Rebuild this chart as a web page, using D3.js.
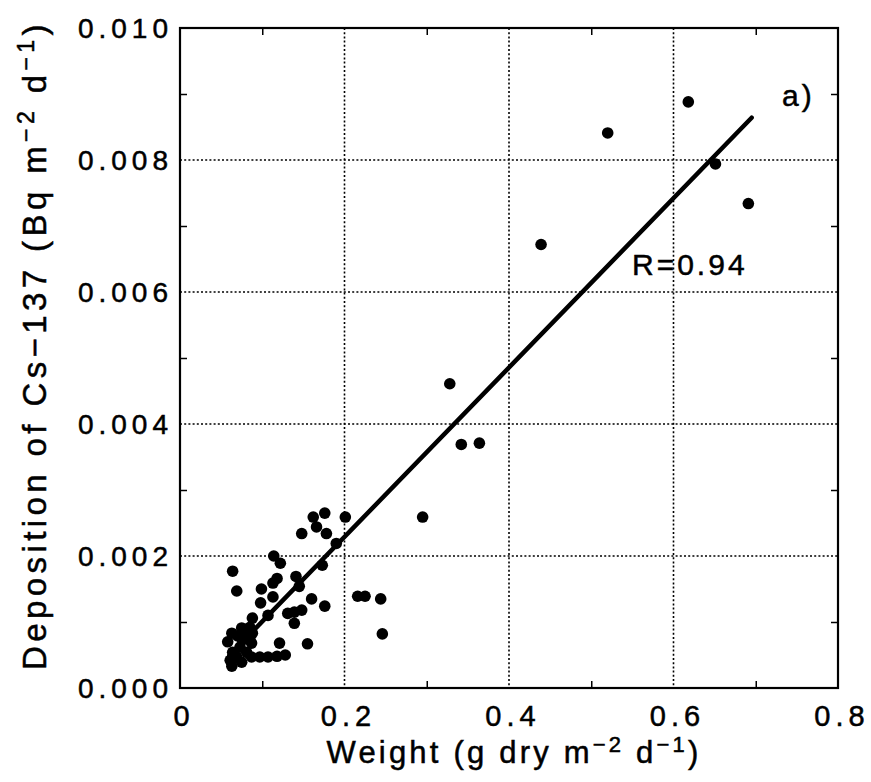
<!DOCTYPE html>
<html lang="en">
<head>
  <meta charset="UTF-8" />
  <title>Cs-137 deposition vs weight</title>
  <style>
    body { margin: 0; background: #fff; }
    svg { display: block; background: #fff; }
    text { font-family: "Liberation Sans", Arial, sans-serif; fill: #000; stroke: #000; stroke-width: 0.5px; }
    .ytick { font-size: 28px; letter-spacing: 5px; }
    .xtick { font-size: 29px; letter-spacing: 5px; }
    .xtitle { font-size: 31px; letter-spacing: 3.2px; }
    .ytitle { font-size: 33px; letter-spacing: 4.4px; }
    .note { font-size: 30px; letter-spacing: 3px; }
    .grid line { stroke: #000; stroke-width: 1.6; stroke-dasharray: 2,2.2; }
  </style>
</head>
<body>
  <svg width="871" height="782"></svg>
  <script src="https://d3js.org/d3.v7.min.js"></script>
  <script>
    // weight (g dry m-2 d-1)
    const weight = [
      0.618, 0.520, 0.651, 0.691, 0.439, 0.328, 0.342, 0.364, 0.295,
      0.216, 0.225, 0.244, 0.246, 0.160, 0.176, 0.148, 0.173,
      0.176, 0.162, 0.166, 0.178, 0.201, 0.148, 0.190,
      0.114, 0.122, 0.064, 0.141, 0.118, 0.113, 0.145, 0.069, 0.099, 0.113, 0.098,
      0.139, 0.131, 0.139, 0.088, 0.107, 0.063, 0.079, 0.058, 0.085, 0.073, 0.064,
      0.121, 0.155, 0.087, 0.097, 0.107, 0.118, 0.128, 0.061, 0.063, 0.075,
      0.081, 0.069, 0.076, 0.087, 0.088, 0.075, 0.085, 0.070
    ];
    // deposition of Cs-137 (Bq m-2 d-1)
    const deposition = [
      0.00888, 0.00841, 0.00794, 0.00734, 0.00672, 0.00461, 0.00369, 0.00371, 0.00259,
      0.00139, 0.00139, 0.00135, 0.00082, 0.00135, 0.00124, 0.00118, 0.00186,
      0.00265, 0.00259, 0.00244, 0.00234, 0.00259, 0.00234, 0.00219,
      0.00200, 0.00189, 0.00177, 0.00169, 0.00166, 0.00159, 0.00154, 0.00147, 0.00150, 0.00138, 0.00129,
      0.00115, 0.00113, 0.00098, 0.00106, 0.00110, 0.00083, 0.00088, 0.00070, 0.00077, 0.00062, 0.00054,
      0.00068, 0.00067, 0.00047, 0.00047, 0.00047, 0.00048, 0.00050, 0.00042, 0.00033, 0.00039,
      0.00054, 0.00047, 0.00073, 0.00068, 0.00083, 0.00091, 0.00092, 0.00079
    ];

    const xTicks = [0, 0.2, 0.4, 0.6, 0.8];
    const xTickLabels = ["0", "0.2", "0.4", "0.6", "0.8"];
    const yTicks = [0, 0.002, 0.004, 0.006, 0.008, 0.010];
    const yTickLabels = ["0.000", "0.002", "0.004", "0.006", "0.008", "0.010"];

    // fitted line
    const fitSlope = 0.01283;
    const fitIntercept = -0.000276;
    const fitRange = [0.06, 0.695];

    const svg = d3.select("svg");
    const pLeft = 180, pRight = 838, pTop = 28, pBottom = 688;

    const x = d3.scaleLinear().domain([0, 0.8]).range([pLeft, pRight]);
    const y = d3.scaleLinear().domain([0, 0.010]).range([pBottom, pTop]);

    // dotted grid
    const grid = svg.append("g").attr("class", "grid");
    grid.selectAll(".gx").data(xTicks.slice(1, -1)).enter().append("line")
      .attr("x1", d => x(d)).attr("x2", d => x(d))
      .attr("y1", pTop).attr("y2", pBottom);
    grid.selectAll(".gy").data(yTicks.slice(1, -1)).enter().append("line")
      .attr("y1", d => y(d)).attr("y2", d => y(d))
      .attr("x1", pLeft).attr("x2", pRight);

    // inward ticks on all four sides
    const minorX = d3.range(0.1, 0.8, 0.2);
    const minorY = d3.range(0.001, 0.010, 0.002);
    svg.append("g").attr("transform", `translate(0,${pBottom})`)
      .call(d3.axisTop(x).tickValues(minorX).tickSize(7).tickFormat(""));
    svg.append("g").attr("transform", `translate(0,${pTop})`)
      .call(d3.axisBottom(x).tickValues(minorX).tickSize(7).tickFormat(""));
    svg.append("g").attr("transform", `translate(${pLeft},0)`)
      .call(d3.axisRight(y).tickValues(minorY).tickSize(7).tickFormat(""));
    svg.append("g").attr("transform", `translate(${pRight},0)`)
      .call(d3.axisLeft(y).tickValues(minorY).tickSize(7).tickFormat(""));
    svg.selectAll(".domain").remove();
    svg.selectAll(".tick line").attr("stroke", "#000").attr("stroke-width", 1.5);

    // frame
    svg.append("rect")
      .attr("x", pLeft).attr("y", pTop)
      .attr("width", pRight - pLeft).attr("height", pBottom - pTop)
      .attr("fill", "none").attr("stroke", "#000").attr("stroke-width", 2.2);

    // tick labels
    svg.append("g").selectAll("text").data(yTicks).enter().append("text")
      .attr("class", "ytick")
      .attr("x", 173).attr("y", d => y(d) + 10)
      .attr("text-anchor", "end")
      .text((d, i) => yTickLabels[i]);

    svg.append("g").selectAll("text").data(xTicks).enter().append("text")
      .attr("class", "xtick")
      .attr("x", d => x(d) + 4).attr("y", 726)
      .attr("text-anchor", "middle")
      .text((d, i) => xTickLabels[i]);

    // axis titles
    const xt = svg.append("text").attr("class", "xtitle")
      .attr("x", 514).attr("y", 763).attr("text-anchor", "middle");
    xt.append("tspan").text("Weight (g dry m");
    xt.append("tspan").attr("dy", -11).attr("font-size", 22).text("−2");
    xt.append("tspan").attr("dy", 11).text(" d");
    xt.append("tspan").attr("dy", -11).attr("font-size", 22).text("−1");
    xt.append("tspan").attr("dy", 11).text(")");

    const yt = svg.append("text").attr("class", "ytitle")
      .attr("transform", "translate(46,345) rotate(-90)")
      .attr("text-anchor", "middle");
    yt.append("tspan").text("Deposition of Cs−137 (Bq m");
    yt.append("tspan").attr("dy", -12).attr("font-size", 23).text("−2");
    yt.append("tspan").attr("dy", 12).text(" d");
    yt.append("tspan").attr("dy", -12).attr("font-size", 23).text("−1");
    yt.append("tspan").attr("dy", 12).text(")");

    // regression line
    svg.append("line")
      .attr("x1", x(fitRange[0])).attr("y1", y(fitIntercept + fitSlope * fitRange[0]))
      .attr("x2", x(fitRange[1])).attr("y2", y(fitIntercept + fitSlope * fitRange[1]))
      .attr("stroke", "#000").attr("stroke-width", 4.5).attr("stroke-linecap", "round");

    // points
    svg.append("g").selectAll("circle").data(weight).enter().append("circle")
      .attr("cx", d => x(d))
      .attr("cy", (d, i) => y(deposition[i]))
      .attr("r", 5.8)
      .attr("fill", "#000");

    svg.append("text").attr("class", "note")
      .attr("x", 632).attr("y", 275).text("R=0.94");
    svg.append("text").attr("class", "note")
      .attr("x", 782).attr("y", 106).attr("font-size", 36).attr("letter-spacing", 4).text("a)");
  </script>
</body>
</html>
